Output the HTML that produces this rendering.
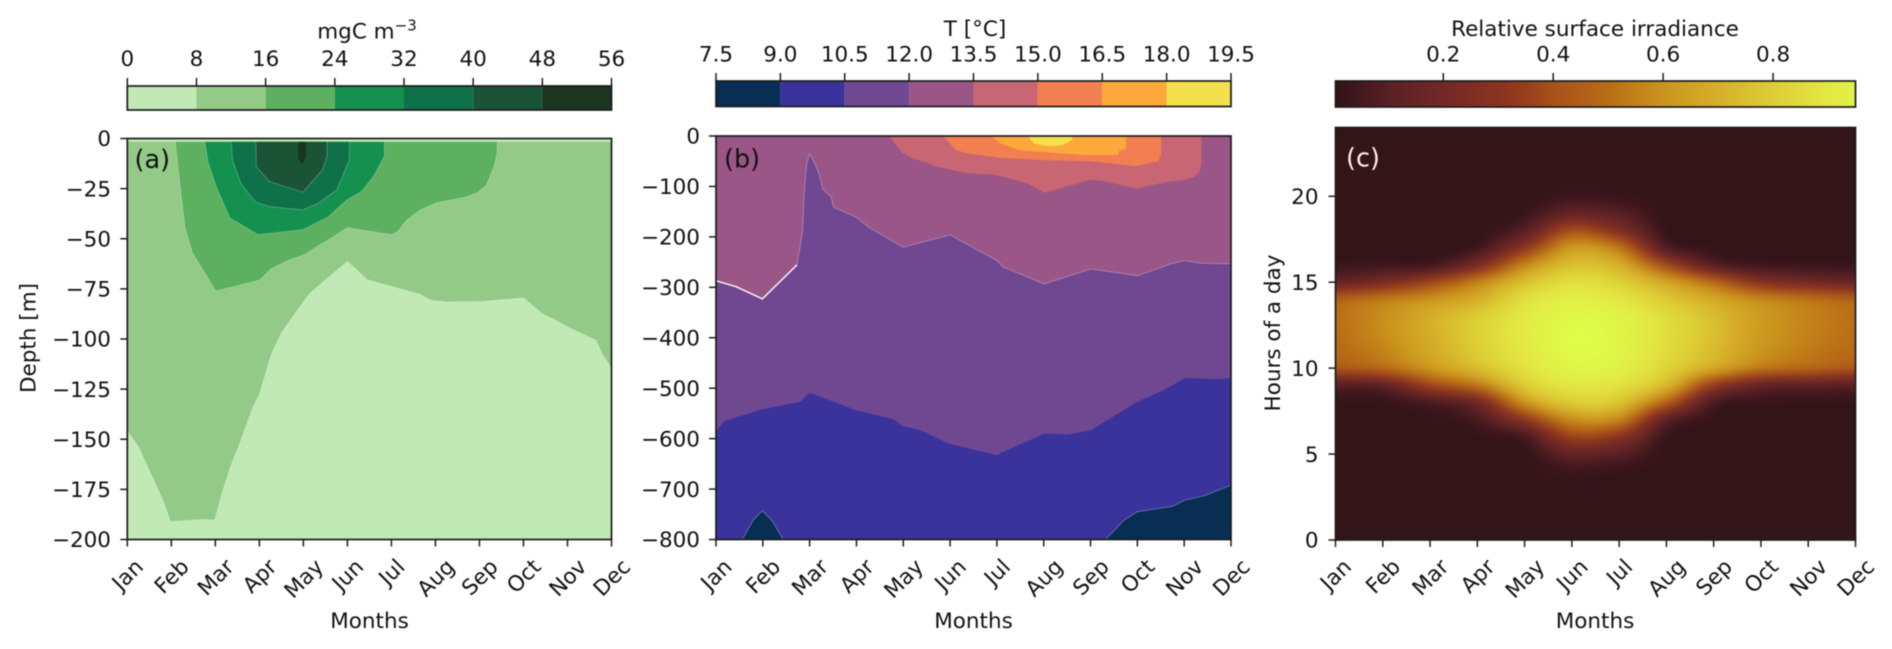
<!DOCTYPE html>
<html lang="en">
<head>
<meta charset="utf-8">
<title>Depth profiles and surface irradiance</title>
<style>
html,body{margin:0;padding:0;background:#fff;width:1892px;height:649px;overflow:hidden}
svg{display:block;filter:blur(.45px)}
text{font-family:"DejaVu Sans","Liberation Sans",sans-serif;font-size:21.5px;fill:#111}
</style>
</head>
<body>
<svg id="fig" xmlns="http://www.w3.org/2000/svg" width="1892" height="649" viewBox="0 0 1892 649">
<defs>
<filter id="soften" x="-5%" y="-5%" width="110%" height="110%" color-interpolation-filters="sRGB"><feGaussianBlur stdDeviation="4"/></filter>
<clipPath id="clipA"><rect x="127" y="138.5" width="484.5" height="401"/></clipPath>
<clipPath id="clipB"><rect x="716" y="136" width="515" height="403.5"/></clipPath>
<clipPath id="clipC"><rect x="1335.5" y="127.5" width="520" height="412.5"/></clipPath>
</defs>
</svg>
<script>
// ---- shared axis data ----
const months = ['Jan','Feb','Mar','Apr','May','Jun','Jul','Aug','Sep','Oct','Nov','Dec'];
const chlDepthTicks = [0,-25,-50,-75,-100,-125,-150,-175,-200];
const tempDepthTicks = [0,-100,-200,-300,-400,-500,-600,-700,-800];
const hourTicks = [0,5,10,15,20];
const chlLevels = [0,8,16,24,32,40,48,56];
const tempLevels = [7.5,9,10.5,12,13.5,15,16.5,18,19.5];
const tempLevelLabels = ['7.5','9.0','10.5','12.0','13.5','15.0','16.5','18.0','19.5'];
const irrTicks = [0.2,0.4,0.6,0.8];
const irrRange = [0.004,0.95];

// ---- panel (a) contour lines: [month index, depth m] ----
const chlSurfaceGap = -1.7;
const chlContour8 = [[0,-145.7],[0.26,-154],[0.82,-181],[0.98,-191],[1.74,-190],[1.985,-190.4],[2.13,-178.4],[2.35,-163.5],[2.53,-153.5],[2.86,-133.6],[3,-127.7],[3.27,-107.8],[3.5,-97],[3.71,-90.4],[4.02,-81],[4.16,-77],[5,-61.3],[5.45,-70.4],[6.66,-77.8],[6.89,-80.6],[7.22,-81.5],[8.05,-81.3],[9,-79.5],[9.44,-87.7],[9.67,-90],[10.05,-94.5],[10.65,-100.7],[10.79,-107.8],[11,-114.5]];
const chlContour16 = [[1.09,-1.7],[1.19,-22],[1.31,-44.7],[1.48,-57],[2,-75.7],[2.07,-75.8],[3,-70.7],[3.27,-65],[3.65,-60.8],[4.02,-58],[4.34,-53.5],[4.67,-49.2],[5,-44.5],[6,-48],[6.15,-46.4],[6.34,-40.9],[6.66,-35.6],[7.03,-32],[7.68,-29.3],[7.96,-27],[8.16,-23.2],[8.33,-14],[8.4,-7.5],[8.4,-1.7]];
const chlContour24 = [[1.76,-1.7],[1.84,-12.4],[2.02,-24],[2.33,-39.7],[2.97,-48],[3.99,-45.5],[4.57,-39],[4.99,-30.6],[5.32,-26.5],[5.59,-19],[5.84,-9],[5.84,-1.7]];
const chlContour32 = [[2.36,-1.7],[2.39,-10.8],[2.58,-22.4],[2.9,-31.5],[3.23,-34],[3.99,-35.6],[4.34,-32.3],[4.76,-25.7],[5.04,-10.8],[5.05,-1.7]];
const chlContour40 = [[2.92,-1.7],[2.93,-14],[3.23,-21.5],[3.99,-26.8],[4.43,-15.7],[4.54,-9],[4.54,-1.7]];
const chlContour48 = [[3.88,-1.7],[3.88,-10],[3.98,-13],[4.06,-9],[4.06,-1.7]];

// ---- panel (b) contour lines: [month index, depth m] ----
const tempContour9a = [[0.56,-800],[0.8,-761],[0.99,-743],[1.21,-764],[1.43,-800]];
const tempContour9b = [[8.32,-800],[8.71,-762.4],[8.99,-745],[9.76,-734],[10.02,-721.6],[10.44,-713],[10.98,-693],[11,-693]];
const tempContour105 = [[0,-585],[0.19,-565],[0.99,-542],[1.8,-527],[2,-509],[3,-544],[3.8,-562],[3.98,-575],[4.39,-584.5],[4.96,-609.6],[5.99,-632.6],[7.01,-590],[7.52,-592],[8.01,-583],[8.97,-528.5],[9.58,-503],[10.02,-480],[10.71,-482],[11,-480]];
const tempContour12 = [[0,-287],[0.43,-298.7],[0.99,-323],[1.73,-255.6],[1.8,-217],[1.85,-187],[1.89,-101],[1.94,-55],[2,-35],[2.13,-58],[2.21,-78],[2.28,-104.6],[2.46,-121],[2.51,-141],[3,-161],[3.26,-181],[4,-220.5],[5,-196],[6,-247],[6.14,-260],[7.01,-293],[8.01,-263.6],[9.01,-277],[9.71,-253.6],[10.02,-247],[10.32,-252],[11,-253.6]];
const tempContour135 = [[3.7,0],[3.83,-15],[3.96,-32],[4.22,-45],[4.48,-51.7],[4.66,-59.6],[5.35,-73.5],[5.96,-76.8],[6.62,-92.7],[7.01,-112.6],[8.01,-86.8],[8.32,-90],[9,-104.6],[9.28,-98],[9.62,-91.4],[10.02,-86.8],[10.22,-81.5],[10.34,-68],[10.37,-51.7],[10.37,0]];
const tempContour15 = [[4.85,0],[5,-15],[5.13,-28.5],[5.4,-35],[6.05,-43],[7.01,-48],[8.01,-50],[8.97,-59.6],[9.45,-50],[9.51,-35],[9.51,0]];
const tempContour165 = [[5.86,0],[6.09,-15],[6.49,-28.5],[7.01,-32],[8.01,-38.4],[8.58,-37],[8.62,-28.5],[8.75,-25],[8.77,0]];
const tempContour18 = [[6.66,0],[6.79,-15],[7.1,-20.5],[7.4,-18.5],[7.6,-8.6],[7.62,0]];

// ---- panel (c) relative irradiance, one array per month, hours 0..24 ----
const irrJan = [0,0,0,0,0,0,0,0,.01,.1,.42,.48,.5,.5,.46,.14,.02,0,0,0,0,0,0,0,0];
const irrFeb = [0,0,0,0,0,0,0,0,.01,.12,.48,.55,.58,.58,.53,.22,.03,0,0,0,0,0,0,0,0];
const irrMar = [0,0,0,0,0,0,0,.01,.06,.36,.61,.67,.69,.69,.6,.36,.04,0,0,0,0,0,0,0,0];
const irrApr = [0,0,0,0,0,0,.005,.06,.18,.52,.74,.79,.81,.79,.69,.55,.22,.03,0,0,0,0,0,0,0];
const irrMay = [0,0,0,0,0,.005,.05,.3,.6,.79,.87,.9,.91,.9,.86,.75,.56,.3,.1,.02,0,0,0,0,0];
const irrJun = [0,0,0,.005,.03,.13,.35,.58,.79,.89,.95,.97,.975,.96,.93,.86,.75,.62,.4,.14,.03,.005,0,0,0];
const irrJul = [0,0,0,0,.01,.1,.28,.56,.76,.87,.93,.95,.95,.94,.89,.81,.69,.52,.25,.1,.02,0,0,0,0];
const irrAug = [0,0,0,0,0,0,.02,.12,.45,.72,.82,.85,.86,.85,.78,.66,.38,.08,.01,0,0,0,0,0,0];
const irrSep = [0,0,0,0,0,0,0,.01,.06,.32,.67,.73,.75,.74,.67,.48,.1,.01,0,0,0,0,0,0,0];
const irrOct = [0,0,0,0,0,0,0,0,.02,.14,.52,.6,.62,.62,.57,.27,.03,0,0,0,0,0,0,0,0];
const irrNov = [0,0,0,0,0,0,0,0,.01,.12,.47,.53,.55,.55,.51,.2,.02,0,0,0,0,0,0,0,0];
const irrDec = [0,0,0,0,0,0,0,0,.01,.1,.42,.48,.5,.5,.46,.16,.02,0,0,0,0,0,0,0,0];
const irrByMonth = [irrJan,irrFeb,irrMar,irrApr,irrMay,irrJun,irrJul,irrAug,irrSep,irrOct,irrNov,irrDec];

// ---- colour scales ----
const chlColors = ['#c1e9b5','#93ca88','#5cb05f','#14914e','#0f714a','#1b5337','#1a3520'];
const tempColors = ['#082e53','#39339b','#704791','#9a5687','#c86673','#f17f50','#fda83a','#f4e04c'];
const irrStopValues = [0,.03,.1,.2,.3,.35,.4,.5,.6,.7,.8,.9,.98];
const irrStopColors = [[51,20,25],[60,22,28],[90,33,36],[116,40,38],[138,52,32],[154,63,27],[168,82,26],[186,110,22],[203,149,29],[214,176,42],[221,207,53],[227,232,68],[222,253,72]];

// ---- helpers ----
const NS = 'http://www.w3.org/2000/svg';
const svg = document.getElementById('fig');
function make(tag, attrs, parent){
  const e = document.createElementNS(NS, tag);
  for (const k in attrs) e.setAttribute(k, attrs[k]);
  (parent || svg).appendChild(e);
  return e;
}
function linear(d0, d1, r0, r1){ return v => r0 + (v - d0) * (r1 - r0) / (d1 - d0); }
function irrColor(v){
  const s = irrStopValues, c = irrStopColors;
  if (v <= s[0]) return 'rgb(' + c[0].join(',') + ')';
  for (let i = 1; i < s.length; i++){
    if (v <= s[i]){
      const t = (v - s[i-1]) / (s[i] - s[i-1]);
      return 'rgb(' + c[i].map((x, j) => Math.round(c[i-1][j] + (x - c[i-1][j]) * t)).join(',') + ')';
    }
  }
  return 'rgb(' + c[c.length-1].join(',') + ')';
}
const INK = '#1c1c1c';
function frame(x0, y0, x1, y1, parent){
  const r = make('rect', {x:x0, y:y0, width:x1-x0, height:y1-y0, fill:'none', stroke:INK, 'stroke-width':1.7}, parent);
  
  
}
function bottomMonthAxis(xs, yBase, parent){
  months.forEach((m, i) => {
    const x = xs(i);
    const tick = make('line', {x1:x, x2:x, y1:yBase, y2:yBase+7, stroke:INK, 'stroke-width':1.5}, parent);
    
    
    const t = make('text', {'text-anchor':'middle', x:0, y:0, dy:'0.36em'}, parent);
    t.textContent = m;
    
    
    const w = t.getComputedTextLength();
    const cy = 557 + (w + 16) * 0.3535;
    t.setAttribute('transform', 'translate(' + x + ',' + cy + ') rotate(-45)');
  });
}
function leftAxis(ticks, ys, xLeft, xLabelRight, parent){
  ticks.forEach(v => {
    const y = ys(v);
    const tick = make('line', {x1:xLeft-7, x2:xLeft, y1:y, y2:y, stroke:INK, 'stroke-width':1.5}, parent);
    
    
    const t = make('text', {x:xLabelRight, y:y, dy:'0.36em', 'text-anchor':'end'}, parent);
    t.textContent = String(v).replace('-', '\u2212');
    
    
  });
}
function axisTitle(txt, x, y, rot, name, parent){
  const t = make('text', {x:x, y:y, 'text-anchor':'middle'}, parent);
  if (rot) t.setAttribute('transform', 'rotate(-90 ' + x + ' ' + y + ')');
  t.textContent = txt;
  
  
  return t;
}
function panelTag(txt, x, y, color, name, parent){
  const t = make('text', {x:x, y:y, style:'font-size:25.5px;fill:' + color}, parent);
  t.textContent = txt;
  
  
}
function pointsOf(line, xs, ys){ return line.map(p => xs(p[0]).toFixed(1) + ',' + ys(p[1]).toFixed(1)).join(' '); }
function fillRegion(line, closure, color, xs, ys, name, parent){
  const poly = make('polygon', {points:pointsOf(line.concat(closure), xs, ys), fill:color}, parent);
  
  
}
function seam(line, xs, ys, alpha, width, parent){
  const pl = make('polyline', {points:pointsOf(line, xs, ys), fill:'none', stroke:'rgba(255,255,255,' + alpha + ')', 'stroke-width':width}, parent);
  
  
}
function colorbarTicks(values, labels, xs, yTop, baseline, parent){
  values.forEach((v, i) => {
    const x = xs(v);
    const tick = make('line', {x1:x, x2:x, y1:yTop-8, y2:yTop, stroke:INK, 'stroke-width':1.5}, parent);
    
    
    const t = make('text', {x:x, y:baseline, 'text-anchor':'middle'}, parent);
    t.textContent = labels[i];
    
    
  });
}

// ---- panel (a) ----
(function(){
  const L = 127.3, R = 611.5, T = 138.5, B = 539.5;
  const x = linear(0, 11, L, R), y = linear(0, -200, T, B);
  const g = make('g', {});
  
  
  const cb = linear(0, 56, L, R);
  const cbG = make('g', {}, g);
  
  
  chlColors.forEach((c, i) => {
    const r = make('rect', {x:cb(chlLevels[i]), y:86, width:cb(chlLevels[i+1]) - cb(chlLevels[i]), height:24, fill:c}, cbG);
    
    
  });
  frame(L, 86, R, 110, cbG);
  colorbarTicks(chlLevels, chlLevels.map(String), cb, 86, 66, cbG);
  const title = axisTitle('mgC m', 367, 38.5, false, 'colorbar-a-title', cbG);
  const sup = make('tspan', {dy:-8, style:'font-size:15px'}, title);
  sup.textContent = '\u22123';
  
  

  const plot = make('g', {'clip-path':'url(#clipA)'}, g);
  
  
  const bg = make('rect', {x:L, y:T, width:R-L, height:B-T, fill:chlColors[1]}, plot);
  
  
  const gap = make('rect', {x:L, y:T, width:R-L, height:y(chlSurfaceGap)-T, fill:chlColors[0]}, plot);
  
  
  fillRegion(chlContour8, [[11,-200],[0,-200]], chlColors[0], x, y, 'level-0-8', plot);
  fillRegion(chlContour16, [], chlColors[2], x, y, 'level-16-24', plot);
  fillRegion(chlContour24, [], chlColors[3], x, y, 'level-24-32', plot);
  fillRegion(chlContour32, [], chlColors[4], x, y, 'level-32-40', plot);
  fillRegion(chlContour40, [], chlColors[5], x, y, 'level-40-48', plot);
  fillRegion(chlContour48, [], chlColors[6], x, y, 'level-48-56', plot);
  [chlContour8, chlContour16, chlContour24, chlContour32, chlContour40].forEach(c => seam(c, x, y, .3, .8, plot));

  frame(L, T, R, B, g);
  leftAxis(chlDepthTicks, y, L, 111, g);
  bottomMonthAxis(x, B, g);
  axisTitle('Depth [m]', 35.5, 338, true, 'y-axis-title-a', g);
  axisTitle('Months', 369.5, 628, false, 'x-axis-title-a', g);
  panelTag('(a)', 134.5, 168, '#111', 'panel-label-a', g);
})();

// ---- panel (b) ----
(function(){
  const L = 716, R = 1231, T = 136, B = 539.5;
  const x = linear(0, 11, L, R), y = linear(0, -800, T, B);
  const g = make('g', {});
  
  
  const cb = linear(7.5, 19.5, L, R);
  const cbG = make('g', {}, g);
  
  
  tempColors.forEach((c, i) => {
    const r = make('rect', {x:cb(tempLevels[i]), y:81, width:cb(tempLevels[i+1]) - cb(tempLevels[i]), height:25.5, fill:c}, cbG);
    
    
  });
  frame(L, 81, R, 106.5, cbG);
  colorbarTicks(tempLevels, tempLevelLabels, cb, 81, 61.5, cbG);
  axisTitle('T [\u00b0C]', 975, 36, false, 'colorbar-b-title', cbG);

  const plot = make('g', {'clip-path':'url(#clipB)'}, g);
  
  
  const bg = make('rect', {x:L, y:T, width:R-L, height:B-T, fill:tempColors[1]}, plot);
  
  
  fillRegion(tempContour9a, [], tempColors[0], x, y, 'level-7-5-9-february', plot);
  fillRegion(tempContour9b, [[11,-800]], tempColors[0], x, y, 'level-7-5-9-autumn', plot);
  fillRegion(tempContour105, [[11,0],[0,0]], tempColors[2], x, y, 'level-10-5-12', plot);
  fillRegion(tempContour12, [[11,0],[0,0]], tempColors[3], x, y, 'level-12-13-5', plot);
  fillRegion(tempContour135, [], tempColors[4], x, y, 'level-13-5-15', plot);
  fillRegion(tempContour15, [], tempColors[5], x, y, 'level-15-16-5', plot);
  fillRegion(tempContour165, [], tempColors[6], x, y, 'level-16-5-18', plot);
  fillRegion(tempContour18, [], tempColors[7], x, y, 'level-18-19-5', plot);
  [tempContour9a, tempContour9b, tempContour12].forEach(c => seam(c, x, y, .35, .8, plot));
  seam(tempContour12.slice(0, 4), x, y, .95, 1.4, plot);

  frame(L, T, R, B, g);
  leftAxis(tempDepthTicks, y, L, 700, g);
  bottomMonthAxis(x, B, g);
  axisTitle('Months', 973.5, 628, false, 'x-axis-title-b', g);
  panelTag('(b)', 724, 167.5, '#111', 'panel-label-b', g);
})();

// ---- panel (c) ----
(function(){
  const L = 1335.5, R = 1855.5, T = 127.5, B = 540;
  const x = linear(0, 11, L, R), y = linear(0, 24, B, T);
  const g = make('g', {});
  
  
  const cb = linear(irrRange[0], irrRange[1], L, R);
  const cbG = make('g', {}, g);
  
  
  const barStep = (irrRange[1] - irrRange[0]) / 130;
  for (let v = irrRange[0]; v < irrRange[1] - barStep / 2; v += barStep){
    const r = make('rect', {x:cb(v), y:81, width:cb(v + barStep) - cb(v) + .6, height:26, fill:irrColor(v)}, cbG);
    
    
  }
  frame(L, 81, R, 107, cbG);
  colorbarTicks(irrTicks, irrTicks.map(v => v.toFixed(1)), cb, 81, 61.5, cbG);
  axisTitle('Relative surface irradiance', 1595, 36, false, 'colorbar-c-title', cbG);

  const clip = make('g', {'clip-path':'url(#clipC)'}, g);
  
  
  const heat = make('g', {filter:'url(#soften)', 'shape-rendering':'crispEdges'}, clip);
  
  
  function cr(a, b, c, d, t){ return b + .5 * t * (c - a + t * (2*a - 5*b + 4*c - d + t * (3*(b - c) + d - a))); }
  function sample(m, h){
    const M = Math.max(0, Math.min(10.999, m)), H = Math.max(0, Math.min(23.999, h));
    const mi = Math.floor(M), hi = Math.floor(H), mt = M - mi, ht = H - hi;
    const col = i => {
      const a = irrByMonth[Math.max(0, Math.min(11, i))];
      return cr(a[Math.max(0, hi-1)], a[hi], a[hi+1], a[Math.min(24, hi+2)], ht);
    };
    return Math.max(0, cr(col(mi-1), col(mi), col(mi+1), col(mi+2), mt));
  }
  const cw = 8, ch = 4;
  for (let px = L - 3*cw; px < R + 3*cw; px += cw){
    for (let py = T - 5*ch; py < B + 5*ch; py += ch){
      const v = sample((px + cw/2 - L) / (R - L) * 11, (B - py - ch/2) / (B - T) * 24);
      const r = make('rect', {x:px, y:py, width:cw + .5, height:ch + .5, fill:irrColor(v)}, heat);
      
      
    }
  }
  frame(L, T, R, B, g);
  leftAxis(hourTicks, y, L, 1318.5, g);
  bottomMonthAxis(x, B, g);
  axisTitle('Hours of a day', 1280, 333, true, 'y-axis-title-c', g);
  axisTitle('Months', 1595, 628, false, 'x-axis-title-c', g);
  panelTag('(c)', 1346, 166.5, '#f5f0ea', 'panel-label-c', g);
})();
</script>
</body>
</html>
